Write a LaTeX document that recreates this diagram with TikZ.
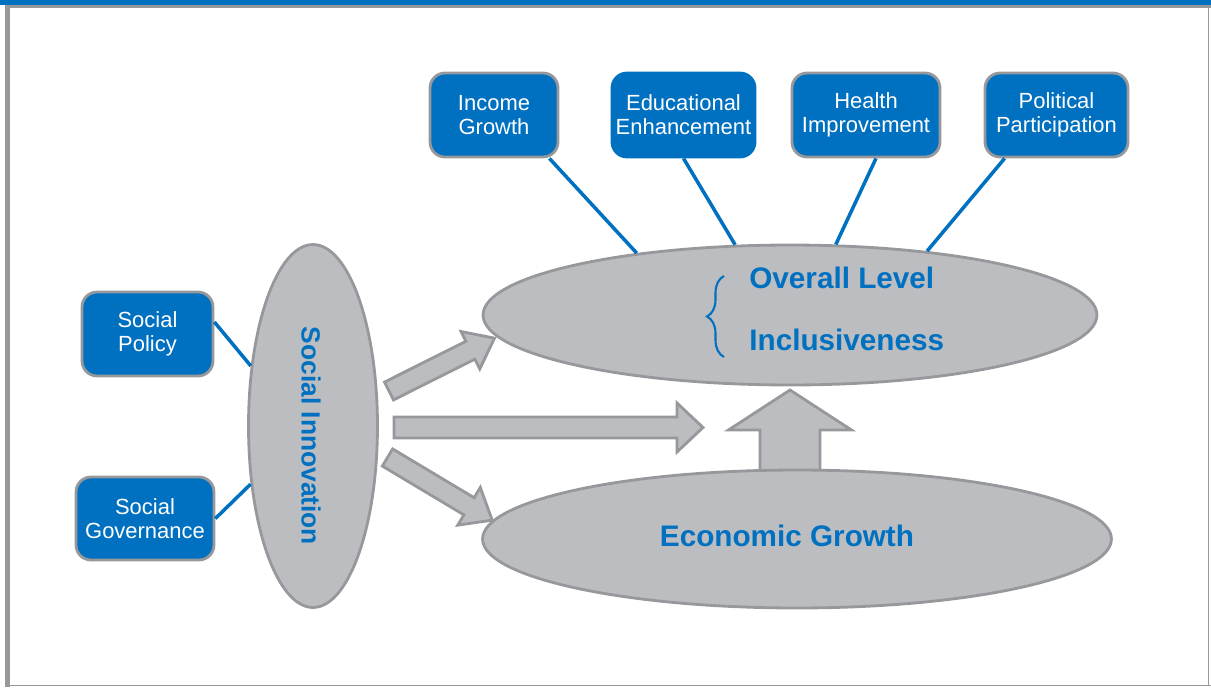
\documentclass[tikz,border=0pt]{standalone}
\usepackage{fontspec}
\setmainfont{Liberation Sans}
\usetikzlibrary{shapes.geometric,decorations.pathreplacing}
\definecolor{siblue}{HTML}{0070C0}
\definecolor{sigray}{HTML}{BCBDC1}
\definecolor{siedge}{HTML}{97989C}

\begin{document}
\begin{tikzpicture}[x=0.02cm,y=-0.02cm,
    factor/.style={fill=siblue,draw=siedge,line width=1.6pt,rounded corners=0.3cm,
      text=white,align=center,minimum height=1.68cm,inner sep=0pt,
      font=\fontsize{12.5}{13.6}\selectfont},
    blob/.style={ellipse,fill=sigray,draw=siedge,line width=1.6pt,inner sep=0pt},
    link/.style={draw=siblue,line width=2pt},
    blockarrow/.style={fill=sigray,draw=siedge,line width=1.6pt,line join=miter},
    bigtext/.style={text=siblue,inner sep=0pt,font=\bfseries\fontsize{16.9}{18}\selectfont}]
  \useasboundingbox (0,0) rectangle (1211,687);

  % frame
  \fill[siblue] (0,0) rectangle (1211,4.5);
  \fill[siedge] (5,4.5) rectangle (1211,8);
  \fill[siedge] (5,4.5) rectangle (10,687);
  \draw[siedge,line width=1.1pt] (10,685.5) -- (1211,685.5);
  \draw[siedge,line width=1.1pt] (1208.5,8) -- (1208.5,686);

  % fat arrows
  \foreach \ax/\ay/\ang/\len/\hd/\sh/\hw in {389/391/26.6/118/27/10/21,
      394/427.5/0/309/26/10.5/24.5, 387.5/457.5/-30.9/122/27/10/22, 790/474/90/84/40/30/61.5}
    \draw[blockarrow,shift={(\ax,\ay)},rotate=\ang]
      (0,-\sh) -- (\len-\hd,-\sh) -- (\len-\hd,-\hw) -- (\len,0)
      -- (\len-\hd,\hw) -- (\len-\hd,\sh) -- (0,\sh) -- cycle;

  % ellipses
  \node[blob,minimum width=12.28cm,minimum height=2.8cm] (ov) at (790,315) {};
  \node[blob,minimum width=12.58cm,minimum height=2.76cm] (eg) at (797,539) {};
  \node[blob,minimum width=2.58cm,minimum height=7.26cm] (si) at (313,426) {};

  % factor boxes
  \node[factor,minimum width=2.56cm] (ig) at (494,115) {Income\\Growth};
  \node[factor,draw=siblue,minimum width=2.86cm] (ee) at (683.5,115) {Educational\\Enhancement};
  \node[factor,minimum width=2.96cm] (hi) at (866,115) {Health\\Improvement};
  \node[factor,minimum width=2.86cm] (pp) at (1056.5,115) {Political\\Participation};
  \node[factor,minimum width=2.62cm] (sp) at (147.5,334) {Social\\Policy};
  \node[factor,minimum width=2.76cm,minimum height=1.66cm] (sg) at (145,518.5) {Social\\Governance};

  % links
  \begin{scope}[link]
    \draw ([xshift=-0.2cm]ig.south east) -- (ov.158);
    \draw (ee.south) -- (ov.128.5);
    \draw ([xshift=0.2cm]hi.south) -- (ov.57.8);
    \draw ([xshift=0.42cm]pp.south west) -- (ov.25.5);
    \draw ([yshift=0.24cm]sp.east) -- (si.136);
    \draw (sg.east) -- (si.223.6);
  \end{scope}

  % texts
  \node[bigtext,anchor=west] (ol) at (749,278) {Overall Level};
  \node[bigtext,anchor=west] (inc) at (749,340) {Inclusiveness};
  \draw[siblue,line width=1.2pt,decorate,decoration={brace,amplitude=0.34cm}]
    (724,357) -- (724,276);
  \node[bigtext] (egt) at (787,536) {Economic Growth};
  \node[bigtext,font=\bfseries\fontsize{15}{17}\selectfont,rotate=-90] (sit) at (311,436) {Social Innovation};
\end{tikzpicture}
\end{document}
